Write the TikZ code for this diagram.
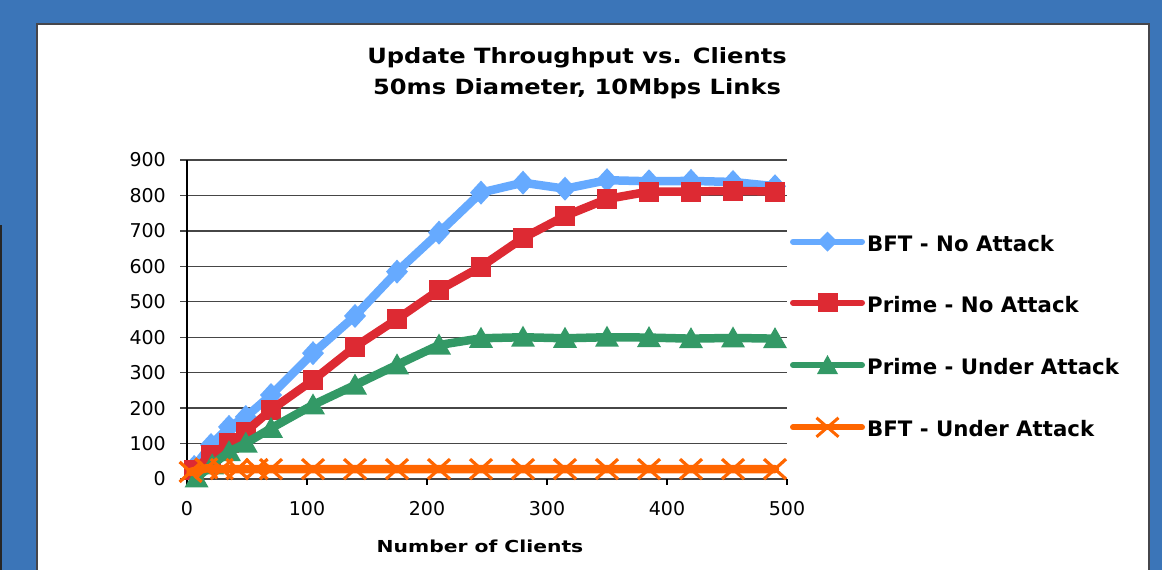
\documentclass[tikz,border=0pt]{standalone}
\usepackage{fontspec}
\setmainfont{DejaVu Sans}
\usetikzlibrary{calc}
\definecolor{bgblue}{RGB}{59,117,184}
\definecolor{panelborder}{RGB}{70,70,75}
\definecolor{gridc}{RGB}{70,70,70}
\definecolor{sblue}{RGB}{102,170,255}
\definecolor{sred}{RGB}{221,42,51}
\definecolor{sgreen}{RGB}{51,153,102}
\definecolor{sorange}{RGB}{255,102,0}
\def\blueData{6/34,20/96,35/147,49/175,70/237,105/355,140/460,175/585,210/695,245/808,280/836,315/819,350/843,385/840,420/841,455/838,490/826}
\def\redData{6/25,20/68,35/101,49/134,70/195,105/279,140/373,175/451,210/533,245/599,280/680,315/742,350/790,385/811,420/811,455/813,490/811}
\def\greenData{8/3,21/40,35/77,49/101,70/143,105/209,140/265,175/322,210/378,245/397,280/400,315/397,350/400,385/399,420/396,455/398,490/396}
\def\orangeData{3/20,16/30,29/28,42/28,58/28,70/28,105/28,140/28,175/28,210/28,245/28,280/28,315/28,350/28,385/28,420/28,455/28,490/28}
\tikzset{
  series/.style={line width=8.5pt,line join=round,line cap=round},
  legline/.style={line width=6pt,line cap=round},
  ticklbl/.style={font=\fontsize{19}{19}\selectfont,inner sep=0pt},
  titlelbl/.style={font=\fontsize{21}{21}\selectfont\bfseries,inner sep=0pt,anchor=base},
  leglbl/.style={font=\fontsize{21.3}{21.3}\selectfont\bfseries,inner sep=0pt,anchor=base west},
  gridline/.style={draw=gridc,line width=1.3pt},
  diamondmk/.pic={\fill (0,12pt) -- (11pt,0) -- (0,-12pt) -- (-11pt,0) -- cycle;},
  squaremk/.pic={\fill (-10pt,-10pt) rectangle (10pt,10pt);},
  trianglemk/.pic={\fill (0,11.5pt) -- (12pt,-9.5pt) -- (-12pt,-9.5pt) -- cycle;},
  xmk/.pic={\draw[line width=3.2pt] (-11pt,-10pt) -- (11pt,10pt) (-11pt,10pt) -- (11pt,-10pt);},
  legdiamond/.pic={\fill (0,10pt) -- (10pt,0) -- (0,-10pt) -- (-10pt,0) -- cycle;},
  legsquare/.pic={\fill (-10pt,-9.5pt) rectangle (10pt,9.5pt);},
  legtriangle/.pic={\fill (0,10pt) -- (10.5pt,-9pt) -- (-10.5pt,-9pt) -- cycle;},
  legx/.pic={\draw[line width=3pt] (-11pt,-9.5pt) -- (11pt,9.5pt) (-11pt,9.5pt) -- (11pt,-9.5pt);}
}
\begin{document}
\begin{tikzpicture}[x=1pt,y=-1pt]
\useasboundingbox (0,0) rectangle (1162,570);
\fill[bgblue] (0,0) rectangle (1162,570);
\draw[black!85,line width=2.5pt] (1,225) -- (1,571);
\fill[white] (37,24) rectangle (1149,575);
\draw[panelborder,line width=1.6pt] (37,575) -- (37,24) -- (1149,24) -- (1149,575);
% title
\node[titlelbl] (t1) at (577,63.3) {\scalebox{1.15}[1]{Update Throughput vs. Clients}};
\node[titlelbl] (t2) at (577,94) {\scalebox{1.15}[1]{50ms Diameter, 10Mbps Links}};
% grid
\foreach \v in {0,...,9} {
  \draw[gridline] (180,{479-35.444*\v}) -- (787,{479-35.444*\v});
  \node[ticklbl,anchor=east] (yl\v) at (166,{479-35.444*\v}) {\ifnum\v=0 0\else\v00\fi};
}
\draw[black,line width=1.3pt] (187,160) -- (187,479);
\foreach \i in {0,...,5} {
  \draw[black,line width=1.2pt] ({187+120*\i},479) -- ({187+120*\i},485);
  \node[ticklbl] (xl\i) at ({187+120*\i},509) {\ifnum\i=0 0\else\i00\fi};
}
\node[font=\fontsize{16.5}{16.5}\selectfont\bfseries,inner sep=0pt,anchor=base] (xlab) at (480,552) {\scalebox{1.23}[1]{Number of Clients}};
% data
\begin{scope}[shift={(187,479)},x=1.2pt,y=0.354444pt]
  \draw[sblue,series] (6,34) \foreach \a/\b in \blueData {-- (\a,\b)};
  \foreach \a/\b in \blueData {\pic[sblue] at (\a,\b) {diamondmk};}
  \draw[sred,series] (6,25) \foreach \a/\b in \redData {-- (\a,\b)};
  \foreach \a/\b in \redData {\pic[sred] at (\a,\b) {squaremk};}
  \draw[sgreen,series] (8,3) \foreach \a/\b in \greenData {-- (\a,\b)};
  \foreach \a/\b in \greenData {\pic[sgreen] at (\a,\b) {trianglemk};}
  \draw[sorange,series] (3,20) \foreach \a/\b in \orangeData {-- (\a,\b)};
  \foreach \a/\b in \orangeData {\pic[sorange] at (\a,\b) {xmk};}
\end{scope}
% legend
\coordinate (l1a) at (793,241.7); \coordinate (l1b) at (862,241.7);
\coordinate (l2a) at (793,302.7); \coordinate (l2b) at (862,302.7);
\coordinate (l3a) at (793,365); \coordinate (l3b) at (862,365);
\coordinate (l4a) at (793,427.3); \coordinate (l4b) at (862,427.3);
\draw[sblue,legline] (l1a) -- (l1b); \pic[sblue] at ($(l1a)!0.5!(l1b)$) {legdiamond};
\draw[sred,legline] (l2a) -- (l2b); \pic[sred] at ($(l2a)!0.5!(l2b)$) {legsquare};
\draw[sgreen,legline] (l3a) -- (l3b); \pic[sgreen] at ($(l3a)!0.5!(l3b)$) {legtriangle};
\draw[sorange,legline] (l4a) -- (l4b); \pic[sorange] at ($(l4a)!0.5!(l4b)$) {legx};
\node[leglbl] (g1) at (867,251) {BFT - No Attack};
\node[leglbl] (g2) at (867,312) {Prime - No Attack};
\node[leglbl] (g3) at (867,374.3) {Prime - Under Attack};
\node[leglbl] (g4) at (867,436.6) {BFT - Under Attack};
\end{tikzpicture}
\end{document}
